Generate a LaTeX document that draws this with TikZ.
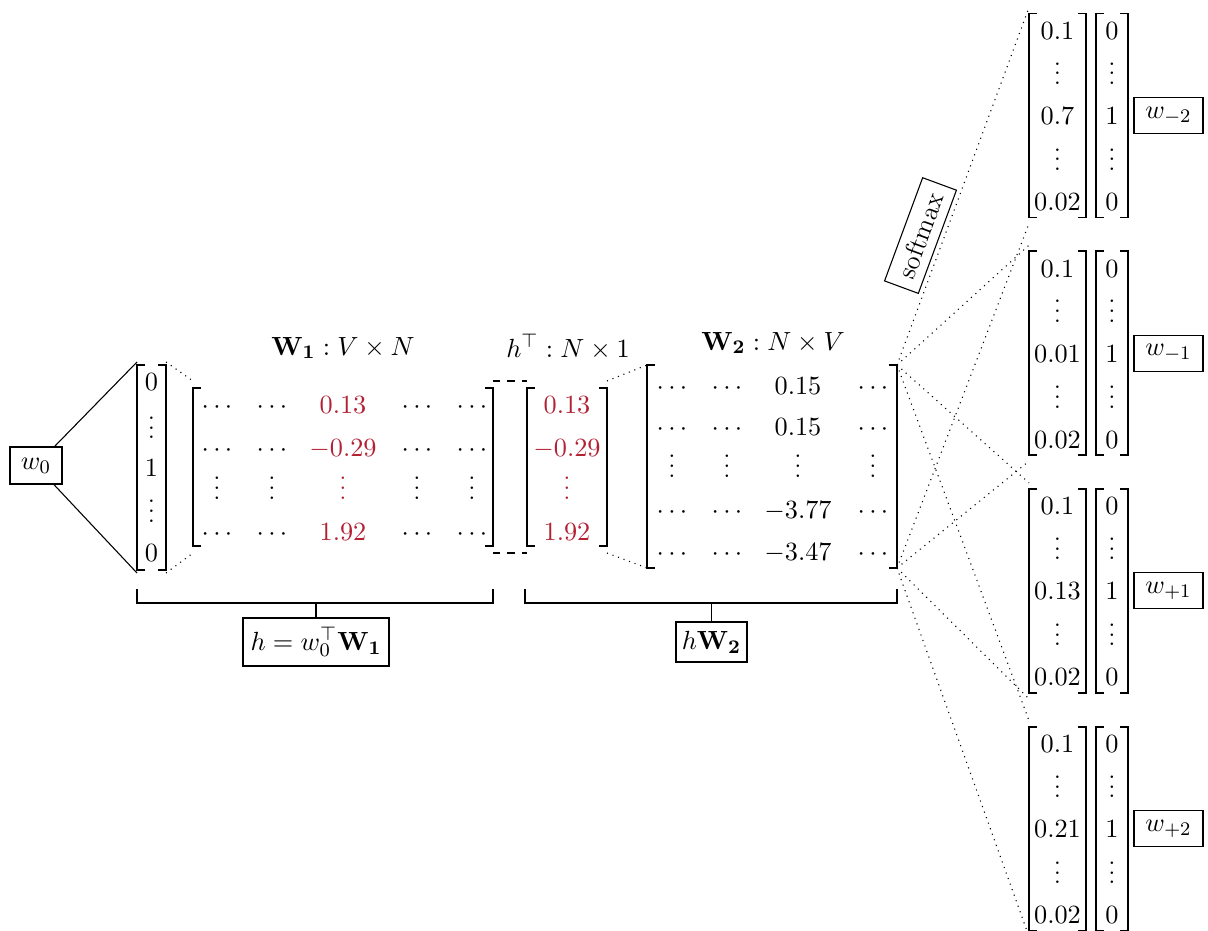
\documentclass[tikz,border=0pt]{standalone}
\usetikzlibrary{calc}
\definecolor{wred}{RGB}{178,34,52}
\newcommand{\pxu}{0.4166pt}
% vertical dots without the extra kern on top
\newcommand{\vdotsb}{\mathord{\vbox{\baselineskip4pt\lineskiplimit0pt\hbox{.}\hbox{.}\hbox{.}}}}
\tikzset{
  every node/.style={font=\fontsize{11}{13}\selectfont},
  vecbox/.style={inner sep=0pt, outer sep=0pt},
  brk/.style={line width=0.8pt},
  tagbox/.style={draw, line width=0.45pt, inner sep=0pt, outer sep=0pt},
  ent/.style={anchor=base, inner sep=0pt},
  zoomline/.style={dotted, line width=0.45pt},
  joinline/.style={dashed, line width=0.45pt},
  thinline/.style={line width=0.45pt},
}
% square brackets on both sides of a vector/matrix box, #2 = vertical inset
\newcommand{\bracketpair}[2]{%
  \draw[brk] ($(#1.north west)+(8,#2)$) -- ($(#1.north west)+(0,#2)$) -- ($(#1.south west)+(0,-#2)$) -- ($(#1.south west)+(8,-#2)$);
  \draw[brk] ($(#1.north east)+(-8,#2)$) -- ($(#1.north east)+(0,#2)$) -- ($(#1.south east)+(0,-#2)$) -- ($(#1.south east)+(-8,-#2)$);
}
\begin{document}
\begin{tikzpicture}[x=0.4166pt, y=-0.4166pt]
\useasboundingbox (0,0) rectangle (1208,931);

% ---- input word and its one-hot vector
\node[tagbox, minimum width=52*\pxu, minimum height=37*\pxu] (w0) at (36,465.5) {$w_0$};
\node[vecbox, minimum width=29*\pxu, minimum height=211*\pxu] (x0) at (151.5,467.5) {};
\bracketpair{x0}{3}
\foreach \r/\y/\t in {1/391/0, 2/439/\vdotsb, 3/476/1, 4/522/\vdotsb, 5/561/0}
  \node[ent] (x0-\r) at (151.5,\y) {$\t$};
\draw[thinline] (w0) -- (x0.north west);
\draw[thinline] (w0) -- (x0.south west);

% ---- first weight matrix
\node[anchor=base] (t1) at (343,355) {$\mathbf{W_1} : V \times N$};
\node[vecbox, minimum width=300*\pxu, minimum height=172*\pxu] (W1) at (343,467) {};
\bracketpair{W1}{7}
\foreach \c/\x in {1/217, 2/272, 4/417, 5/472} {
  \foreach \r/\y in {1/414, 2/456, 4/540}
    \node[ent] (W1-\r-\c) at (\x,\y) {$\cdots$};
  \node[ent] (W1-3-\c) at (\x,499) {$\vdotsb$};
}
\foreach \r/\y/\t in {1/414/0.13, 2/456/-0.29, 3/499/\vdotsb, 4/540/1.92}
  \node[ent, text=wred] (W1-\r-3) at (343,\y) {$\t$};
\draw[zoomline] (x0.north east) -- (W1.north west);
\draw[zoomline] (x0.south east) -- (W1.south west);

% ---- hidden vector
\node[anchor=base] (t2) at (568,357) {$h^\top : N \times 1$};
\node[vecbox, minimum width=80*\pxu, minimum height=172*\pxu] (hT) at (567,467) {};
\bracketpair{hT}{7}
\foreach \r/\y/\t in {1/414/0.13, 2/456/-0.29, 3/499/\vdotsb, 4/540/1.92}
  \node[ent, text=wred] (hT-\r) at (567,\y) {$\t$};
\draw[joinline] (W1.north east) -- (hT.north west);
\draw[joinline] (W1.south east) -- (hT.south west);

% ---- second weight matrix
\node[anchor=base] (t3) at (773,350) {$\mathbf{W_2} : N \times V$};
\node[vecbox, minimum width=250*\pxu, minimum height=203*\pxu] (W2) at (772,466.5) {};
\bracketpair{W2}{0}
\foreach \c/\x in {1/672, 2/727, 4/873} {
  \foreach \r/\y in {1/394, 2/435.5, 4/518.5, 5/560}
    \node[ent] (W2-\r-\c) at (\x,\y) {$\cdots$};
  \node[ent] (W2-3-\c) at (\x,477) {$\vdotsb$};
}
\foreach \r/\y/\t in {1/394/0.15, 2/435.5/0.15, 3/477/\vdotsb, 4/518.5/-3.77, 5/560/-3.47}
  \node[ent] (W2-\r-3) at (798,\y) {$\t$};
\draw[zoomline] (hT.north east) -- (W2.north west);
\draw[zoomline] (hT.south east) -- (W2.south west);

% ---- grouping brackets and products
\coordinate (b1l) at (137,589);
\coordinate (b1r) at (493,589);
\draw[thinline] (b1l) -- ++(0,14) -| (b1r);
\node[tagbox, minimum width=146*\pxu, minimum height=48*\pxu] (hbox) at (316,642) {$h = w_0^\top\mathbf{W_1}$};
\draw[thinline] (hbox.north) -- ++(0,-15);

\coordinate (b2l) at (525,589);
\coordinate (b2r) at (897,589);
\draw[thinline] (b2l) -- ++(0,14) -| (b2r);
\node[tagbox, minimum width=71*\pxu, minimum height=40*\pxu] (hwbox) at (711.5,642) {$h\mathbf{W_2}$};
\draw[thinline] (hwbox.north) -- ++(0,-19);

% ---- softmax outputs and context words
\foreach \k/\c/\v/\lab in {1/115.5/0.7/-2, 2/353.2/0.01/-1, 3/590.9/0.13/+1, 4/828.6/0.21/+2} {
  \node[vecbox, minimum width=57*\pxu, minimum height=216*\pxu] (P\k) at (1057.5,\c) {};
  \bracketpair{P\k}{6}
  \node[vecbox, minimum width=32*\pxu, minimum height=216*\pxu] (O\k) at (1112,\c) {};
  \bracketpair{O\k}{6}
  \foreach \r/\dy/\t in {1/-76/0.1, 2/-31/\vdotsb, 3/9/\v, 4/55/\vdotsb, 5/95/0.02}
    \node[ent] (P\k-\r) at (1057.5,\c+\dy) {$\t$};
  \foreach \r/\dy/\t in {1/-76/0, 2/-31/\vdotsb, 3/9/1, 4/55/\vdotsb, 5/95/0}
    \node[ent] (O\k-\r) at (1112,\c+\dy) {$\t$};
  \node[tagbox, minimum width=69*\pxu, minimum height=36*\pxu] (L\k) at (1168.5,\c) {$w_{\lab}$};
}
\draw[zoomline] (W2.north east) -- node[tagbox, solid, sloped, above=2pt, pos=0.34,
  minimum width=110*\pxu, minimum height=36*\pxu] (sm) {softmax} (P1.north west);
\foreach \k in {2,3,4}
  \draw[zoomline] (W2.north east) -- (P\k.north west);
\foreach \k in {1,2,3,4}
  \draw[zoomline] (W2.south east) -- (P\k.south west);
\end{tikzpicture}
\end{document}
